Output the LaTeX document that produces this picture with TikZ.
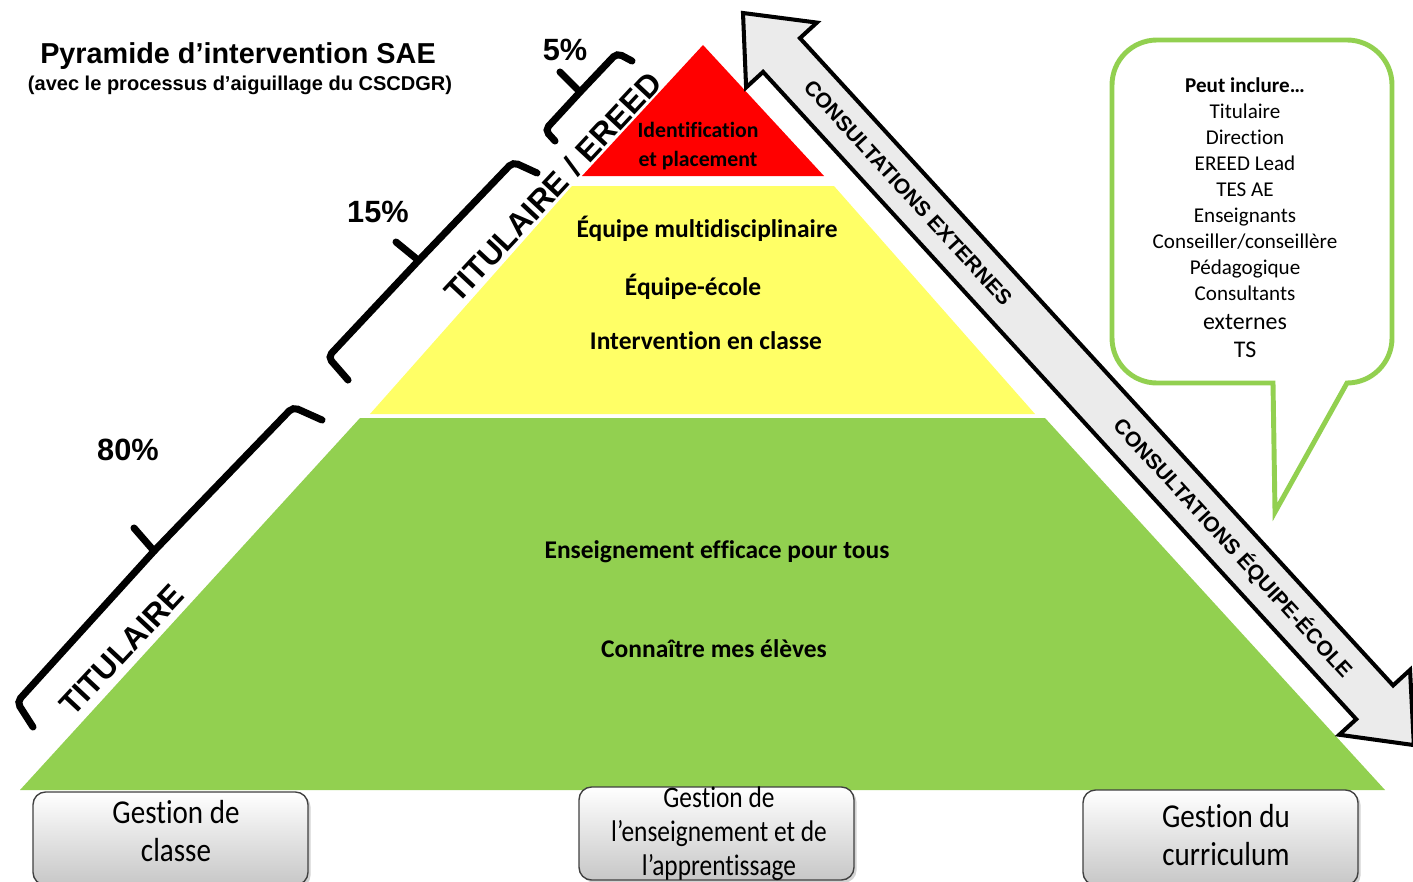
\documentclass[tikz,border=0pt]{standalone}
\usepackage{fontspec}
\setmainfont{Carlito}[Ligatures=NoCommon]
\newfontfamily\arialfont{Liberation Sans}
\usetikzlibrary{shadows}

\definecolor{rouge}{HTML}{FF0000}
\definecolor{jaune}{HTML}{FFFF66}
\definecolor{vert}{HTML}{92D050}
\definecolor{grisfleche}{HTML}{EBEBEB}

\begin{document}
\begin{tikzpicture}[x=0.02cm,y=-0.02cm,
  titre/.style={font=\arialfont\bfseries\fontsize{16.4}{19}\selectfont},
  soustitre/.style={font=\arialfont\bfseries\fontsize{11.4}{13}\selectfont},
  pct/.style={font=\arialfont\bfseries\fontsize{17.5}{20}\selectfont},
  rotlbl/.style={font=\arialfont\bfseries\fontsize{18}{20}\selectfont, rotate=47},
  couche/.style={font=\bfseries\fontsize{14.5}{17}\selectfont},
  couchepetit/.style={font=\bfseries\fontsize{12.4}{16.4}\selectfont, align=center},
  crochet/.style={line width=4pt, rounded corners=3pt, line cap=round},
  fleche/.style={draw=black, line width=2.3pt, fill=grisfleche},
  flechetxt/.style={font=\arialfont\bfseries\fontsize{12}{14}\selectfont, rotate=-47.5},
  bulle/.style={draw=vert, line width=2.8pt},
  bulletxt/.style={font=\fontsize{12}{14.8}\selectfont, align=center},
  gestbox/.style={draw=black!75, line width=0.8pt, rounded corners=0.25cm,
    top color=white, bottom color=black!22, minimum width=5.5cm,
    drop shadow={opacity=0.35, shadow xshift=1.5pt, shadow yshift=-1.5pt}},
  gesttxt/.style={align=center}]

\useasboundingbox (0,0) rectangle (1413,882);

% titre
\node[titre] (titre) at (238,56) {Pyramide d’intervention SAE};
\node[soustitre] (soustitre) at (240,85) {(avec le processus d’aiguillage du CSCDGR)};

% pyramide
\fill[rouge] (703,45) -- (824,176) -- (582,176) -- cycle;
\fill[jaune] (572,186) -- (834,186) -- (1035,414) -- (370,414) -- cycle;
\fill[vert] (360,418) -- (1045,418) -- (1385,790) -- (20,790) -- cycle;

\node[couchepetit] (ident) at (698,146) {Identification\\et placement};
\node[couche] (multi) at (707,229) {Équipe multidisciplinaire};
\node[couche] (ecole) at (693,287) {Équipe-école};
\node[couche] (interv) at (706,341) {Intervention en classe};
\node[couche] (enseign) at (717,552) {Enseignement efficace pour tous};
\node[couche] (eleves) at (714,649) {Connaître mes élèves};

% crochets
\draw[crochet] (555,141) -- (545,130) -- (581,91) -- (617,53) -- (632,61);
\draw[crochet] (577,89) -- (560,72);
\draw[crochet] (348,380) -- (328,357) -- (420,259) -- (513,162) -- (537,173);
\draw[crochet] (418,260) -- (396,242);
\draw[crochet] (33,727) -- (17,702) -- (155,550) -- (293,407) -- (322,420);
\draw[crochet] (154,551) -- (134,528);

\node[pct] (pctA) at (565,50) {5\%};
\node[pct] (pctB) at (378,212) {15\%};
\node[pct] (pctC) at (128,450) {80\%};

\node[rotlbl] (lblhaut) at (553,187) {TITULAIRE / EREED};
\node[rotlbl] (lblbas) at (122,650) {TITULAIRE};

% fleche
\begin{scope}[shift={(743,13)}, rotate=-47.5]
\draw[fleche] (0,0) -- (57,-48) -- (57,-25) -- (935,-25) -- (935,-48) -- (993,0)
  -- (935,48) -- (935,25) -- (57,25) -- (57,48) -- cycle;
\end{scope}
\node[flechetxt] (consext) at (908,193) {CONSULTATIONS EXTERNES};
\node[flechetxt] (consecole) at (1233,548) {CONSULTATIONS ÉQUIPE-ÉCOLE};

% bulle
\draw[bulle] (1275,512) -- (1273,383) [rounded corners=0.9cm] -- (1112,383) -- (1112,40)
  -- (1392,40) -- (1392,383) [sharp corners] -- (1347,383) -- cycle;
\node[bulletxt] (membres) at (1245,218) {\textbf{Peut inclure…}\\Titulaire\\Direction\\EREED Lead\\TES AE\\Enseignants\\Conseiller/conseillère\\Pédagogique\\Consultants\\[1.5pt]
  {\fontsize{13.6}{14.8}\selectfont externes}\\[1.5pt]{\fontsize{13.6}{14.8}\selectfont TS}};

% gestion
\node[gestbox, minimum height=1.86cm] (boiteA) at (170.5,838.5) {};
\node[gestbox, minimum height=1.86cm] (boiteB) at (716.5,833.5) {};
\node[gestbox, minimum height=1.9cm] (boiteC) at (1220.5,837.5) {};

\node[gesttxt, font=\fontsize{19}{22}\selectfont] (gestA) at (176,831)
  {\scalebox{0.87}[1]{Gestion de}\\\scalebox{0.87}[1]{classe}};
\node[gesttxt, font=\fontsize{17}{19.3}\selectfont] (gestB) at (719,834)
  {\scalebox{0.85}[1]{Gestion de}\\\scalebox{0.85}[1]{l’enseignement et de}\\\scalebox{0.85}[1]{l’apprentissage}};
\node[gesttxt, font=\fontsize{19}{21.5}\selectfont] (gestC) at (1226,835)
  {\scalebox{0.87}[1]{Gestion du}\\\scalebox{0.87}[1]{curriculum}};

\end{tikzpicture}
\end{document}
